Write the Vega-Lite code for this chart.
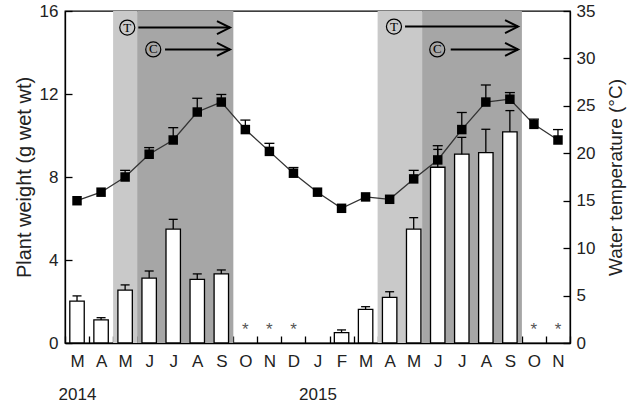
{
  "$schema": "https://vega.github.io/schema/vega-lite/v6.json",
  "width": 505,
  "height": 332,
  "autosize": {"type": "none"},
  "padding": {"left": 65, "top": 11, "right": 73, "bottom": 61},
  "config": {
    "view": {"stroke": "black", "strokeWidth": 1.3},
    "font": "Liberation Sans",
    "axis": {
      "labelFont": "Liberation Sans",
      "titleFont": "Liberation Sans",
      "labelColor": "#222",
      "titleColor": "#222",
      "domainColor": "black",
      "tickColor": "black",
      "grid": false,
      "labelFontSize": 17,
      "titleFontSize": 20,
      "titleFontWeight": "normal",
      "tickSize": -7,
      "domainWidth": 1.3,
      "tickWidth": 1.3,
      "zindex": 1
    }
  },
  "datasets": {
    "m": [
      {"month": "2014-03", "w": 2.02, "wHi": 2.27, "t": 15.0, "tHi": null, "star": 0},
      {"month": "2014-04", "w": 1.11, "wHi": 1.22, "t": 15.9, "tHi": null, "star": 0},
      {"month": "2014-05", "w": 2.55, "wHi": 2.8, "t": 17.5, "tHi": 18.2, "star": 0},
      {"month": "2014-06", "w": 3.13, "wHi": 3.47, "t": 19.9, "tHi": 20.6, "star": 0},
      {"month": "2014-07", "w": 5.49, "wHi": 5.96, "t": 21.4, "tHi": 22.7, "star": 0},
      {"month": "2014-08", "w": 3.07, "wHi": 3.33, "t": 24.35, "tHi": 25.8, "star": 0},
      {"month": "2014-09", "w": 3.33, "wHi": 3.52, "t": 25.4, "tHi": 26.2, "star": 0},
      {"month": "2014-10", "w": null, "wHi": null, "t": 22.5, "tHi": 23.5, "star": 1},
      {"month": "2014-11", "w": null, "wHi": null, "t": 20.2, "tHi": 21.05, "star": 1},
      {"month": "2014-12", "w": null, "wHi": null, "t": 17.9, "tHi": 18.5, "star": 1},
      {"month": "2015-01", "w": null, "wHi": null, "t": 15.9, "tHi": null, "star": 0},
      {"month": "2015-02", "w": 0.5, "wHi": 0.63, "t": 14.2, "tHi": null, "star": 0},
      {"month": "2015-03", "w": 1.62, "wHi": 1.75, "t": 15.4, "tHi": null, "star": 0},
      {"month": "2015-04", "w": 2.2, "wHi": 2.47, "t": 15.15, "tHi": null, "star": 0},
      {"month": "2015-05", "w": 5.49, "wHi": 6.04, "t": 17.3, "tHi": 18.2, "star": 0},
      {"month": "2015-06", "w": 8.47, "wHi": 9.33, "t": 19.3, "tHi": 20.8, "star": 0},
      {"month": "2015-07", "w": 9.1, "wHi": 9.91, "t": 22.5, "tHi": 24.3, "star": 0},
      {"month": "2015-08", "w": 9.17, "wHi": 10.3, "t": 25.4, "tHi": 27.2, "star": 0},
      {"month": "2015-09", "w": 10.17, "wHi": 11.2, "t": 25.7, "tHi": 26.4, "star": 0},
      {"month": "2015-10", "w": null, "wHi": null, "t": 23.05, "tHi": 23.6, "star": 1},
      {"month": "2015-11", "w": null, "wHi": null, "t": 21.4, "tHi": 22.5, "star": 1}
    ],
    "shade": [
      {"a": 2, "b": 3, "kind": "light"},
      {"a": 3, "b": 7, "kind": "dark"},
      {"a": 13, "b": 14.85, "kind": "light"},
      {"a": 14.85, "b": 19, "kind": "dark"}
    ],
    "arrows": [
      {"label": "T", "cx": 2.59, "y": 15.2, "x1": 3.05, "x2": 6.86},
      {"label": "C", "cx": 3.67, "y": 14.15, "x1": 4.16, "x2": 6.86},
      {"label": "T", "cx": 13.68, "y": 15.25, "x1": 14.14, "x2": 18.84},
      {"label": "C", "cx": 15.48, "y": 14.15, "x1": 16.04, "x2": 18.84}
    ]
  },
  "layer": [
    {
      "layer": [
        {
          "data": {"name": "shade"},
          "mark": {"type": "rect"},
          "encoding": {
            "x": {"field": "a", "type": "quantitative", "scale": {"domain": [0, 21], "nice": false, "zero": false}, "axis": null},
            "x2": {"field": "b"},
            "color": {"field": "kind", "type": "nominal", "scale": {"domain": ["light", "dark"], "range": ["#c9c9c9", "#a6a6a6"]}, "legend": null}
          }
        },
        {
          "data": {"name": "arrows"},
          "mark": {"type": "rule", "color": "black", "strokeWidth": 2},
          "encoding": {
            "x": {"field": "x1", "type": "quantitative"},
            "x2": {"field": "x2"},
            "y": {"field": "y", "type": "quantitative", "scale": {"domain": [0, 16], "nice": false}, "axis": null}
          }
        },
        {
          "data": {"name": "arrows"},
          "mark": {"type": "point", "shape": "M-1,-0.5L0,0L-1,0.5", "filled": false, "stroke": "black", "strokeWidth": 2, "size": 676, "opacity": 1},
          "encoding": {
            "x": {"field": "x2", "type": "quantitative"},
            "y": {"field": "y", "type": "quantitative"}
          }
        },
        {
          "data": {"name": "arrows"},
          "mark": {"type": "point", "shape": "circle", "filled": false, "stroke": "black", "strokeWidth": 1.2, "size": 227, "opacity": 1},
          "encoding": {
            "x": {"field": "cx", "type": "quantitative"},
            "y": {"field": "y", "type": "quantitative"}
          }
        },
        {
          "data": {"name": "arrows"},
          "mark": {"type": "text", "font": "Liberation Serif", "fontSize": 13, "baseline": "middle", "align": "center", "color": "black"},
          "encoding": {
            "x": {"field": "cx", "type": "quantitative"},
            "y": {"field": "y", "type": "quantitative"},
            "text": {"field": "label"}
          }
        }
      ]
    },
    {
      "data": {"name": "m"},
      "encoding": {
        "x": {
          "field": "month",
          "type": "ordinal",
          "scale": {
            "domain": ["2014-03", "2014-04", "2014-05", "2014-06", "2014-07", "2014-08", "2014-09", "2014-10", "2014-11", "2014-12", "2015-01", "2015-02", "2015-03", "2015-04", "2015-05", "2015-06", "2015-07", "2015-08", "2015-09", "2015-10", "2015-11"],
            "paddingInner": 0,
            "paddingOuter": 0
          },
          "axis": {
            "orient": "bottom",
            "title": null,
            "labelAngle": 0,
            "tickBand": "extent",
            "labelPadding": 17,
            "labelLineHeight": 33,
            "labelExpr": "datum.value == '2014-03' || datum.value == '2015-01' ? [substring('JFMAMJJASOND', toNumber(substring(datum.value, 5, 7)) - 1, toNumber(substring(datum.value, 5, 7))), substring(datum.value, 0, 4)] : substring('JFMAMJJASOND', toNumber(substring(datum.value, 5, 7)) - 1, toNumber(substring(datum.value, 5, 7)))"
          }
        }
      },
      "layer": [
        {
          "transform": [{"filter": "datum.w != null"}],
          "mark": {"type": "bar", "fill": "white", "stroke": "black", "strokeWidth": 1.3, "width": {"band": 0.6}},
          "encoding": {
            "y": {
              "field": "w",
              "type": "quantitative",
              "scale": {"domain": [0, 16], "nice": false},
              "axis": {"orient": "left", "title": "Plant weight (g wet wt)", "values": [0, 4, 8, 12, 16], "labelPadding": 14, "titlePadding": 5}
            }
          }
        },
        {
          "transform": [{"filter": "datum.w != null"}],
          "mark": {"type": "rule", "color": "black", "strokeWidth": 1.3},
          "encoding": {
            "y": {"field": "w", "type": "quantitative"},
            "y2": {"field": "wHi"}
          }
        },
        {
          "transform": [{"filter": "datum.w != null"}],
          "mark": {"type": "tick", "color": "black", "thickness": 1.3, "size": 9, "opacity": 1},
          "encoding": {
            "y": {"field": "wHi", "type": "quantitative"}
          }
        },
        {
          "transform": [{"filter": "datum.star == 1"}],
          "mark": {"type": "text", "text": "*", "fontSize": 17, "color": "#555", "align": "center", "baseline": "alphabetic"},
          "encoding": {
            "y": {"datum": 0.39, "type": "quantitative"}
          }
        }
      ]
    },
    {
      "data": {"name": "m"},
      "encoding": {
        "x": {
          "field": "month",
          "type": "ordinal",
          "scale": {
            "domain": ["2014-03", "2014-04", "2014-05", "2014-06", "2014-07", "2014-08", "2014-09", "2014-10", "2014-11", "2014-12", "2015-01", "2015-02", "2015-03", "2015-04", "2015-05", "2015-06", "2015-07", "2015-08", "2015-09", "2015-10", "2015-11"],
            "paddingInner": 0,
            "paddingOuter": 0
          },
          "axis": null
        }
      },
      "layer": [
        {
          "mark": {"type": "line", "color": "#333", "strokeWidth": 1.3},
          "encoding": {
            "y": {
              "field": "t",
              "type": "quantitative",
              "scale": {"domain": [0, 35], "nice": false},
              "axis": {"orient": "right", "title": "Water temperature (°C)", "values": [0, 5, 10, 15, 20, 25, 30, 35], "labelPadding": 13, "titleAngle": 270, "titleBaseline": "top", "titlePadding": 12, "titleFontSize": 19}
            }
          }
        },
        {
          "transform": [{"filter": "datum.tHi != null"}],
          "mark": {"type": "rule", "color": "black", "strokeWidth": 1.3},
          "encoding": {
            "y": {"field": "t", "type": "quantitative"},
            "y2": {"field": "tHi"}
          }
        },
        {
          "transform": [{"filter": "datum.tHi != null"}],
          "mark": {"type": "tick", "color": "black", "thickness": 1.3, "size": 10, "opacity": 1},
          "encoding": {
            "y": {"field": "tHi", "type": "quantitative"}
          }
        },
        {
          "mark": {"type": "point", "shape": "square", "filled": true, "color": "black", "size": 90, "opacity": 1},
          "encoding": {
            "y": {"field": "t", "type": "quantitative"}
          }
        }
      ]
    }
  ],
  "resolve": {"scale": {"x": "independent", "y": "independent"}}
}
